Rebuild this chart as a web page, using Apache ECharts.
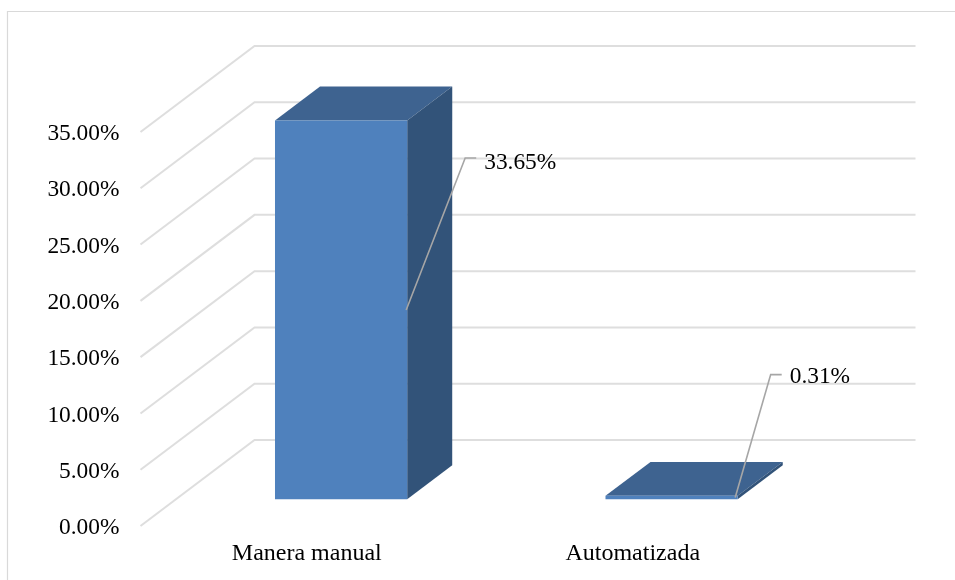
<!DOCTYPE html>
<html>
<head>
<meta charset="utf-8">
<style>html,body{margin:0;padding:0;background:#fff}#c{width:955px;height:580px}</style>
<script src="https://cdn.jsdelivr.net/npm/echarts@6/dist/echarts.min.js"></script>
</head>
<body>
<div id="c"></div>
<script>
const categories = ['Manera manual', 'Automatizada'];
const values = [33.65, 0.31];
const yTicks = [0, 5, 10, 15, 20, 25, 30, 35];
const labelOffsets = [[59, -152], [35.5, -123]];
const labelTextDy = [5, 2];
const categoryLabelPadding = [[0, 0, 0, 2], [0, 7, 0, 0]];

const FONT = '"Liberation Serif","Times New Roman",serif';
const DEPTH_X = 114, DEPTH_Y = 86;      // wall depth of the 3D box
const BAR_T = 0.31, BAR_DEPTH_T = 0.395; // bar position within the depth
const BAR_RATIO = 0.4;
const GRID_COLOR = '#dedede';

const chart = echarts.init(document.getElementById('c'));

function renderGrid(params, api) {
  const y = api.coord([0, api.value(0)])[1];
  const x0 = params.coordSys.x, x1 = x0 + params.coordSys.width;
  return {
    type: 'polyline',
    shape: { points: [[x0, y], [x0 + DEPTH_X, y - DEPTH_Y], [x1 + DEPTH_X, y - DEPTH_Y]] },
    style: { stroke: GRID_COLOR, lineWidth: 2, fill: null }
  };
}

function renderBar(params, api) {
  const idx = api.value(0), val = api.value(1);
  const band = api.size([1, 0])[0];
  const w = band * BAR_RATIO;
  const base = api.coord([idx, 0]);
  const top = api.coord([idx, val]);
  const ox = BAR_T * DEPTH_X, oy = BAR_T * DEPTH_Y;
  const dx = BAR_DEPTH_T * DEPTH_X, dy = BAR_DEPTH_T * DEPTH_Y;
  const l = base[0] + ox - w / 2, r = l + w;
  const b = base[1] - oy, t = top[1] - oy;
  const mid = (t + b) / 2;
  const off = labelOffsets[idx];
  const sx = r - 1 - idx * 1.5;
  const ex = sx + off[0], ey = mid + off[1];
  return {
    type: 'group',
    children: [
      { type: 'polygon', shape: { points: [[l, t], [r, t], [r + dx, t - dy], [l + dx, t - dy]] }, style: { fill: '#3e6390' } },
      { type: 'polygon', shape: { points: [[r, t], [r + dx, t - dy], [r + dx, b - dy], [r, b]] }, style: { fill: '#325379' } },
      { type: 'polygon', shape: { points: [[l, t], [r, t], [r, b], [l, b]] }, style: { fill: '#4f81bd' } },
      { type: 'polyline', shape: { points: [[sx, mid], [ex, ey], [ex + 11, ey]] },
        style: { stroke: '#a6a6a6', lineWidth: 1.6, fill: null } },
      { type: 'text', x: ex + 19, y: ey + labelTextDy[idx],
        style: { text: val.toFixed(2) + '%', fill: '#000', font: '23.4px ' + FONT, textAlign: 'left', textVerticalAlign: 'middle' } }
    ]
  };
}

chart.setOption({
  animation: false,
  backgroundColor: '#fff',
  grid: { left: 140.5, right: 153.5, top: 132, bottom: 54, containLabel: false },
  xAxis: {
    type: 'category',
    data: categories.map((c, i) => ({ value: c, textStyle: { padding: categoryLabelPadding[i] } })),
    axisLine: { show: false },
    axisTick: { show: false },
    splitLine: { show: false },
    axisLabel: { color: '#000', fontFamily: FONT, fontSize: 24, margin: 16 }
  },
  yAxis: {
    type: 'value',
    min: 0, max: 35, interval: 5,
    axisLine: { show: false },
    axisTick: { show: false },
    splitLine: { show: false },
    axisLabel: { color: '#000', fontFamily: FONT, fontSize: 23.4, margin: 21,
      verticalAlign: 'top', lineHeight: 4,
      formatter: v => v.toFixed(2) + '%' }
  },
  graphic: [{
    type: 'rect', silent: true,
    shape: { x: 7.5, y: 11.5, width: 1000, height: 620 },
    style: { fill: null, stroke: '#d9d9d9', lineWidth: 1.2 }
  }],
  series: [
    { type: 'custom', coordinateSystem: 'cartesian2d', clip: false, z: 1,
      encode: { x: -1, y: 0 }, data: yTicks.map(v => [v]), renderItem: renderGrid, silent: true },
    { type: 'custom', coordinateSystem: 'cartesian2d', clip: false, z: 2,
      encode: { x: 0, y: 1 }, data: values.map((v, i) => [i, v]), renderItem: renderBar, silent: true }
  ]
});
</script>
</body>
</html>
